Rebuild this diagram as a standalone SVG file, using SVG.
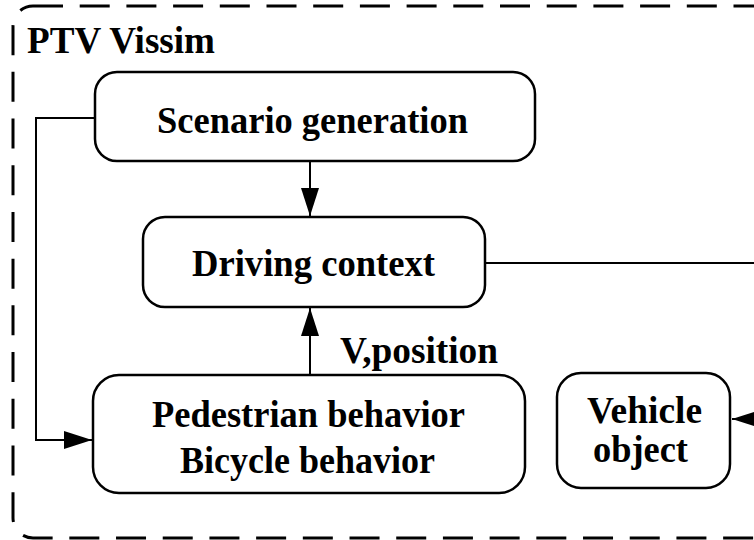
<svg xmlns="http://www.w3.org/2000/svg" width="754" height="540" viewBox="0 0 754 540">
<defs>
<style>
.box{fill:#fff;stroke:#000;stroke-width:2.5}
.ln{fill:none;stroke:#000;stroke-width:2}
.t{font-family:"Liberation Serif","Times New Roman",serif;font-weight:bold;font-size:38.5px;fill:#000}
.c{text-anchor:middle}
</style>
<marker id="ah" viewBox="0 0 28 18" refX="28" refY="9" markerWidth="28" markerHeight="18" markerUnits="userSpaceOnUse" orient="auto">
<path d="M0,0 L28,9 L0,18 Z" fill="#000"/>
</marker>
</defs>
<rect x="13" y="6" width="800" height="532" rx="20" ry="20" fill="none" stroke="#000" stroke-width="3" stroke-dasharray="30 16.7"/>
<text class="t" x="27" y="53" textLength="188" lengthAdjust="spacingAndGlyphs">PTV Vissim</text>
<g id="connectors">
<path class="ln" d="M310,161 L310,216" marker-end="url(#ah)"/>
<path class="ln" d="M310,374 L310,308" marker-end="url(#ah)"/>
<path class="ln" d="M95,118 L36,118 L36,440 L92,440" marker-end="url(#ah)"/>
<path class="ln" d="M485,263 L754,263"/>
<path class="ln" d="M760,419 L732,419" marker-end="url(#ah)"/>
<text class="t" x="340" y="363" textLength="158" lengthAdjust="spacingAndGlyphs">V,position</text>
</g>
<g id="scenario">
<rect class="box" x="95" y="72" width="440" height="89" rx="22"/>
<text class="t c" x="312.5" y="133" textLength="311" lengthAdjust="spacingAndGlyphs">Scenario generation</text>
</g>
<g id="driving">
<rect class="box" x="143" y="217" width="342" height="90" rx="22"/>
<text class="t c" x="313.5" y="276" textLength="243" lengthAdjust="spacingAndGlyphs">Driving context</text>
</g>
<g id="behavior">
<rect class="box" x="93" y="375" width="432" height="118" rx="26"/>
<text class="t c" x="308.5" y="427" textLength="313" lengthAdjust="spacingAndGlyphs">Pedestrian behavior</text>
<text class="t c" x="307.5" y="473" textLength="255" lengthAdjust="spacingAndGlyphs">Bicycle behavior</text>
</g>
<g id="vehicle">
<rect class="box" x="557" y="373" width="173" height="115" rx="24"/>
<text class="t c" x="644.5" y="423" textLength="115" lengthAdjust="spacingAndGlyphs">Vehicle</text>
<text class="t c" x="640.5" y="462" textLength="95" lengthAdjust="spacingAndGlyphs">object</text>
</g>
</svg>
